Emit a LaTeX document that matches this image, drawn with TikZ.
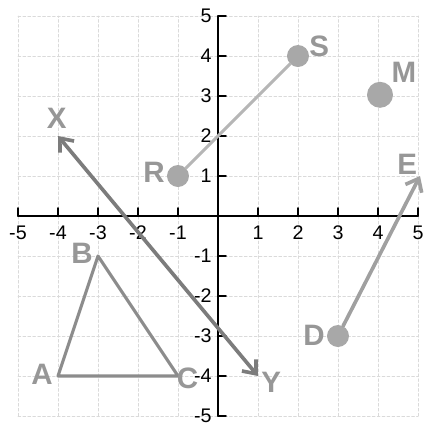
\documentclass[tikz,border=0pt]{standalone}
\usepackage{fontspec}
\setmainfont{Liberation Sans}
\usetikzlibrary{positioning, arrows.meta}
\definecolor{gridink}{HTML}{DADADA}
\definecolor{segink}{HTML}{B6B6B6}
\definecolor{dotink}{HTML}{A8A8A8}
\definecolor{lineink}{HTML}{7C7C7C}
\definecolor{triink}{HTML}{8C8C8C}
\definecolor{rayink}{HTML}{A0A0A0}
\definecolor{lblink}{HTML}{979797}

\begin{document}
\begin{tikzpicture}[
  x=1cm, y=1cm,
  line cap=round, line join=round,
  >={Straight Barb[length=8pt, width=13pt]},
  grd/.style = {draw=gridink, line width=0.5pt, dash pattern=on 2pt off 1.5pt},
  axs/.style = {draw=black, line width=1.1pt},
  num/.style = {font=\fontsize{14}{16}\selectfont, inner sep=1pt},
  dot/.style = {circle, fill=dotink, inner sep=0pt, minimum size=0.55cm},
  lbl/.style = {font=\fontsize{21}{24}\selectfont\bfseries, text=lblink, inner sep=0pt},
  seg/.style = {draw=segink, line width=2.2pt},
  tri/.style = {draw=triink, line width=2.2pt},
  lin/.style = {draw=lineink, line width=2.6pt},
  ray/.style = {draw=rayink, line width=2.6pt}
]
\useasboundingbox (-5.45,-5.325) rectangle (5.2,5.4);

% grid
\draw[grd] (-5,-5) grid (5,5);

% axes
\draw[axs] (-5,0) -- (5,0);
\draw[axs] (0,-5) -- (0,5);
\foreach \k in {-5,...,-1,1,2,...,5} {
  \draw[axs] (\k,0) -- (\k,0.2);
  \draw[axs] (0,\k) -- (0.2,\k);
  \node[num] at (\k,-0.42) {\k};
  \node[num, anchor=east] at (-0.12,\k) {\k};
}

% points
\node[dot] (r) at (-1,1) {};
\node[dot] (s) at (2,4) {};
\node[dot, minimum size=0.65cm] (m) at (4.05,3.03) {};
\node[dot] (d) at (3,-3) {};
\coordinate (e) at (5.05,1);
\coordinate (x) at (-4,2);
\coordinate (y) at (1,-4);
\coordinate (a) at (-4,-4);
\coordinate (b) at (-3,-1);
\coordinate (c) at (-1,-4);

% segments, line, ray, triangle
\draw[seg] (r) -- (s);
\draw[lin, <->] (x) -- (y);
\draw[ray, ->] (d) -- (e);
\draw[tri] (a) -- (b) -- (c) -- cycle;

% labels
\node[lbl] (lx) at (-4.03,2.45) {X};
\node[lbl] (ly) at (1.33,-4.15) {Y};
\node[lbl] (lr) at (-1.6,1.1) {R};
\node[lbl] (ls) at (2.53,4.25) {S};
\node[lbl] (lm) at (4.65,3.6) {M};
\node[lbl] (ld) at (2.4,-2.98) {D};
\node[lbl] (le) at (4.73,1.3) {E};
\node[lbl] (la) at (-4.4,-3.97) {A};
\node[lbl] (lb) at (-3.4,-0.93) {B};
\node[lbl] (lc) at (-0.76,-4.05) {C};

\end{tikzpicture}
\end{document}
